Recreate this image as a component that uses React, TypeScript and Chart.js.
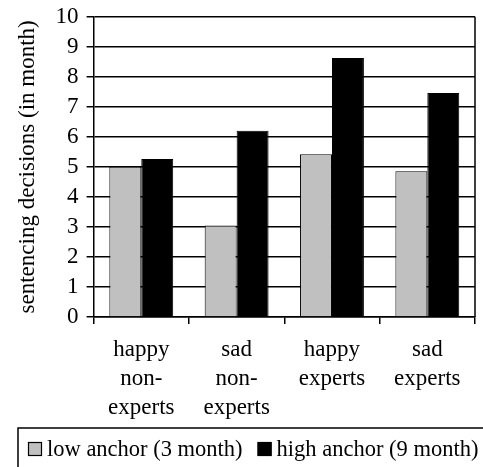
import React, { useEffect, useRef } from "react";
import { Chart, registerables } from "chart.js";

Chart.register(...registerables);

const categories: string[][] = [
  ["happy", "non-", "experts"],
  ["sad", "non-", "experts"],
  ["happy", "experts"],
  ["sad", "experts"],
];
const lowAnchor: number[] = [5.0, 3.05, 5.42, 4.85];
const highAnchor: number[] = [5.26, 6.2, 8.62, 7.46];
const seriesLabels: string[] = ["low anchor (3 month)", "high anchor (9 month)"];
const seriesColors: string[] = ["#c0c0c0", "#000000"];
const yTitle = "sentencing decisions (in month)";

const FONT = "'Liberation Serif', 'Times New Roman', serif";

const framePlugin = {
  id: "frame",
  afterDraw(chart: any) {
    const ctx = chart.ctx;
    const a = chart.chartArea;
    ctx.save();
    ctx.strokeStyle = "#000";
    ctx.lineWidth = 1.5;
    // right border of the plot area
    ctx.beginPath();
    ctx.moveTo(a.right, a.top);
    ctx.lineTo(a.right, a.bottom);
    ctx.stroke();
    // legend frame
    const legendTop = chart.height - 39;
    const legendLeft = 18;
    ctx.lineWidth = 1.5;
    ctx.beginPath();
    ctx.moveTo(legendLeft, chart.height + 5);
    ctx.lineTo(legendLeft, legendTop);
    ctx.lineTo(chart.width + 5, legendTop);
    ctx.stroke();
    // legend items
    ctx.font = `22.5px ${FONT}`;
    ctx.textBaseline = "middle";
    ctx.textAlign = "left";
    let x = legendLeft + 10;
    const cy = legendTop + 21;
    chart.data.datasets.forEach((ds: any, i: number) => {
      ctx.fillStyle = seriesColors[i];
      ctx.fillRect(x, cy - 7, 14, 14);
      ctx.lineWidth = 1.2;
      ctx.strokeStyle = "#000";
      ctx.strokeRect(x + 0.5, cy - 6.5, 13, 13);
      ctx.fillStyle = "#000";
      const tx = x + 19;
      ctx.fillText(ds.label, tx, cy + 1);
      x = tx + ctx.measureText(ds.label).width + 15;
    });
    ctx.restore();
  },
};

export default function App() {
  const ref = useRef<HTMLCanvasElement | null>(null);
  useEffect(() => {
    if (!ref.current) return;
    const chart = new Chart(ref.current, {
      type: "bar",
      data: {
        labels: categories,
        datasets: [
          {
            label: seriesLabels[0],
            data: lowAnchor,
            backgroundColor: seriesColors[0],
            borderColor: "#000",
            borderWidth: 1,
            categoryPercentage: 0.67,
            barPercentage: 1.0,
          },
          {
            label: seriesLabels[1],
            data: highAnchor,
            backgroundColor: seriesColors[1],
            borderColor: "#000",
            borderWidth: 1,
            categoryPercentage: 0.67,
            barPercentage: 1.0,
          },
        ],
      },
      options: {
        animation: false,
        responsive: false,
        maintainAspectRatio: false,
        layout: { padding: { left: 14, right: 8, top: 0, bottom: 34 } },
        plugins: {
          tooltip: { enabled: false },
          legend: { display: false },
        },
        scales: {
          x: {
            grid: {
              offset: true,
              drawOnChartArea: false,
              drawTicks: true,
              tickLength: 7,
              color: "#000",
              lineWidth: 1.5,
            },
            border: { color: "#000", width: 1.5 },
            ticks: {
              color: "#000",
              font: { family: FONT, size: 23, lineHeight: 1.26 },
              maxRotation: 0,
              padding: 11,
            },
          },
          y: {
            min: 0,
            max: 10,
            grid: {
              color: "#000",
              lineWidth: 1.5,
              tickLength: 7,
            },
            border: { color: "#000", width: 1.5 },
            ticks: {
              stepSize: 1,
              autoSkip: false,
              color: "#000",
              font: { family: FONT, size: 23, lineHeight: 0.75 },
              padding: 8,
            },
            title: {
              display: true,
              text: yTitle,
              color: "#000",
              font: { family: FONT, size: 23 },
              padding: { top: 0, bottom: 6 },
            },
          },
        },
      },
      plugins: [framePlugin],
    });
    return () => chart.destroy();
  }, []);
  return (
    <div style={{ position: "fixed", left: 0, top: 0, width: 483, height: 467, background: "#fff" }}>
      <canvas ref={ref} width={483} height={467} style={{ width: 483, height: 467 }} />
    </div>
  );
}
